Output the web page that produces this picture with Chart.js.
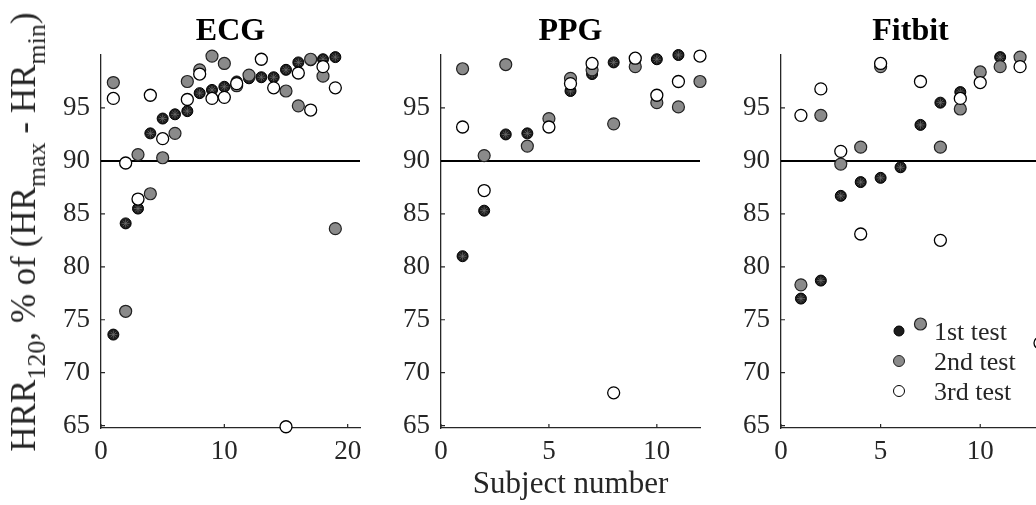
<!DOCTYPE html>
<html>
<head>
<meta charset="utf-8">
<script src="https://cdn.jsdelivr.net/npm/chart.js@4"></script>
<style>
html,body{margin:0;padding:0;width:1036px;height:505px;overflow:hidden;background:#fff;}
body{position:relative;font-family:'Liberation Serif','Times New Roman',serif;color:#262626;}
canvas{position:absolute;top:0;}
.title{position:absolute;top:13px;font-weight:bold;font-size:32px;line-height:32px;transform:translateX(-50%);white-space:nowrap;color:#000;}
#xlab{position:absolute;left:570.5px;top:467px;font-size:31px;line-height:31px;transform:translateX(-50%);white-space:nowrap;}
#ylab{position:absolute;left:25px;top:232px;font-size:35px;line-height:35px;white-space:nowrap;transform:translate(-50%,-50%) rotate(-90deg);}
#ylab .sb{font-size:26px;position:relative;top:10px;}
.lg{position:absolute;font-size:26px;line-height:26px;white-space:nowrap;left:934px;}
.mk{position:absolute;border-radius:50%;box-sizing:border-box;transform:translate(-50%,-50%);}
</style>
</head>
<body>
<canvas id="c1" width="341" height="505" style="left:31px"></canvas>
<canvas id="c2" width="341" height="505" style="left:371px"></canvas>
<canvas id="c3" width="341" height="505" style="left:711px"></canvas>

<div class="title" style="left:230.5px">ECG</div>
<div class="title" style="left:570.5px">PPG</div>
<div class="title" style="left:910.5px">Fitbit</div>
<div id="xlab">Subject number</div>
<div id="ylab">HRR<span class="sb">120</span>, % of (HR<span class="sb">max</span> - HR<span class="sb">min</span>)</div>

<div class="mk" style="left:899px;top:331px;width:11px;height:11px;background:#1c1c1c;border:1px solid #000"></div>
<div class="mk" style="left:899px;top:361px;width:12px;height:12px;background:#8a8a8a;border:1.2px solid #222"></div>
<div class="mk" style="left:899px;top:391px;width:12px;height:12px;background:#fff;border:1.3px solid #000"></div>
<div class="lg" style="top:319px">1st test</div>
<div class="lg" style="top:349px">2nd test</div>
<div class="lg" style="top:379px">3rd test</div>

<script>
// ---------- data ----------
const ecgSubjects = [1,2,3,4,5,6,7,8,9,10,11,12,13,14,15,16,17,18,19];
const ecgTest1 = [73.6,84.1,85.5,92.6,94.0,94.4,94.7,96.4,96.7,97.0,97.5,97.8,97.9,97.9,98.6,99.3,99.5,99.6,99.8];
const ecgTest2 = [97.4,75.8,90.6,86.9,90.3,92.6,97.5,98.6,99.9,99.2,97.1,98.1,null,null,96.6,95.2,99.6,98.0,83.6];
const ecgTest3 = [95.9,89.8,86.4,96.2,92.1,null,95.8,98.2,95.9,96.0,97.3,null,99.6,96.9,64.9,98.3,94.8,98.9,96.9];

const ppgSubjects = [1,2,3,4,5,6,7,8,9,10,11,12];
const ppgTest1 = [81.0,85.3,92.5,92.6,null,96.6,98.2,99.3,99.5,99.6,100.0,null];
const ppgTest2 = [98.7,90.5,99.1,91.4,94.0,97.8,98.6,93.5,98.9,95.5,95.1,97.5];
const ppgTest3 = [93.2,87.2,null,null,93.2,97.3,99.2,68.1,99.7,96.2,97.5,99.9];

const fitSubjects = [1,2,3,4,5,6,7,8,9,10,11,12,13];
const fitTest1 = [77.0,78.7,86.7,88.0,88.4,89.4,93.4,95.5,96.5,null,99.8,null,null];
const fitTest2 = [78.3,94.3,89.7,91.3,98.9,null,74.6,91.3,94.9,98.4,98.9,99.8,null];
const fitTest3 = [94.3,96.8,90.9,83.1,99.2,null,97.5,82.5,95.9,97.4,null,98.9,72.8];

const threshold = 90;
const yTickValues = [65,70,75,80,85,90,95];
const yMin = 64.78, yMax = 100;
const ecgXTicks = [0,10,20], ppgXTicks = [0,5,10], fitXTicks = [0,5,10];
const ecgXMax = 21, ppgXMax = 12, fitXMax = 13;

// ---------- drawing ----------
const FONT = "'Liberation Serif','Times New Roman',serif";
const AX = '#262626';

const inwardTicks = {
  id: 'inwardTicks',
  beforeDatasetsDraw(chart) {
    const {ctx, chartArea: a, scales: {x, y}} = chart;
    ctx.save();
    ctx.strokeStyle = AX; ctx.lineWidth = 1.2;
    ctx.beginPath();
    x.ticks.forEach(t => { const px = x.getPixelForValue(t.value); ctx.moveTo(px, a.bottom); ctx.lineTo(px, a.bottom - 4); });
    y.ticks.forEach(t => { const py = y.getPixelForValue(t.value); ctx.moveTo(a.left, py); ctx.lineTo(a.left + 4, py); });
    ctx.stroke();
    ctx.restore();
  }
};

function pts(subjects, vals) {
  const out = [];
  subjects.forEach((s, i) => { if (vals[i] !== null && vals[i] !== undefined) out.push({x: s, y: vals[i]}); });
  return out;
}

function makePanel(id, subjects, t1, t2, t3, xMax, xTicks) {
  const d1 = pts(subjects, t1), d2 = pts(subjects, t2), d3 = pts(subjects, t3);
  new Chart(document.getElementById(id), {
    type: 'scatter',
    data: {
      datasets: [
        {label: '3rd test', data: d3, pointStyle: 'circle', pointRadius: 6, pointHoverRadius: 6,
         backgroundColor: '#ffffff', borderColor: '#000000', borderWidth: 1.3, clip: false},
        {label: '2nd test', data: d2, pointStyle: 'circle', pointRadius: 6, pointHoverRadius: 6,
         backgroundColor: '#8a8a8a', borderColor: '#222222', borderWidth: 1.2, clip: false},
        {label: '1st test star', data: d1, pointStyle: 'star', pointRadius: 4, pointHoverRadius: 4,
         backgroundColor: 'rgba(0,0,0,0)', borderColor: 'rgba(110,110,110,0.9)', borderWidth: 0.8, clip: false},
        {label: '1st test', data: d1, pointStyle: 'circle', pointRadius: 5.5, pointHoverRadius: 5.5,
         backgroundColor: '#1c1c1c', borderColor: '#000000', borderWidth: 1, clip: false},
        {label: 'threshold', data: [{x: 0, y: threshold}, {x: xMax, y: threshold}], showLine: true,
         pointRadius: 0, borderColor: '#000000', borderWidth: 2, clip: false}
      ]
    },
    options: {
      responsive: false,
      animation: false,
      events: [],
      layout: {padding: {top: 55, right: 12, bottom: 0, left: 0}},
      plugins: {legend: {display: false}, tooltip: {enabled: false}, title: {display: false}},
      scales: {
        x: {
          type: 'linear', min: 0, max: xMax,
          afterBuildTicks: s => { s.ticks = xTicks.map(v => ({value: v})); },
          afterFit: s => { s.height = 77; },
          grid: {display: false, drawTicks: false},
          border: {display: true, color: AX, width: 1.3},
          ticks: {font: {family: FONT, size: 27}, color: AX, padding: 8, maxRotation: 0, autoSkip: false}
        },
        y: {
          type: 'linear', min: yMin, max: yMax,
          afterBuildTicks: s => { s.ticks = yTickValues.map(v => ({value: v})); },
          afterFit: s => { s.width = 70; },
          grid: {display: false, drawTicks: false},
          border: {display: true, color: AX, width: 1.3},
          ticks: {font: {family: FONT, size: 27}, color: AX, padding: 11, autoSkip: false}
        }
      }
    },
    plugins: [inwardTicks]
  });
}

makePanel('c1', ecgSubjects, ecgTest1, ecgTest2, ecgTest3, ecgXMax, ecgXTicks);
makePanel('c2', ppgSubjects, ppgTest1, ppgTest2, ppgTest3, ppgXMax, ppgXTicks);
makePanel('c3', fitSubjects, fitTest1, fitTest2, fitTest3, fitXMax, fitXTicks);
</script>
</body>
</html>
